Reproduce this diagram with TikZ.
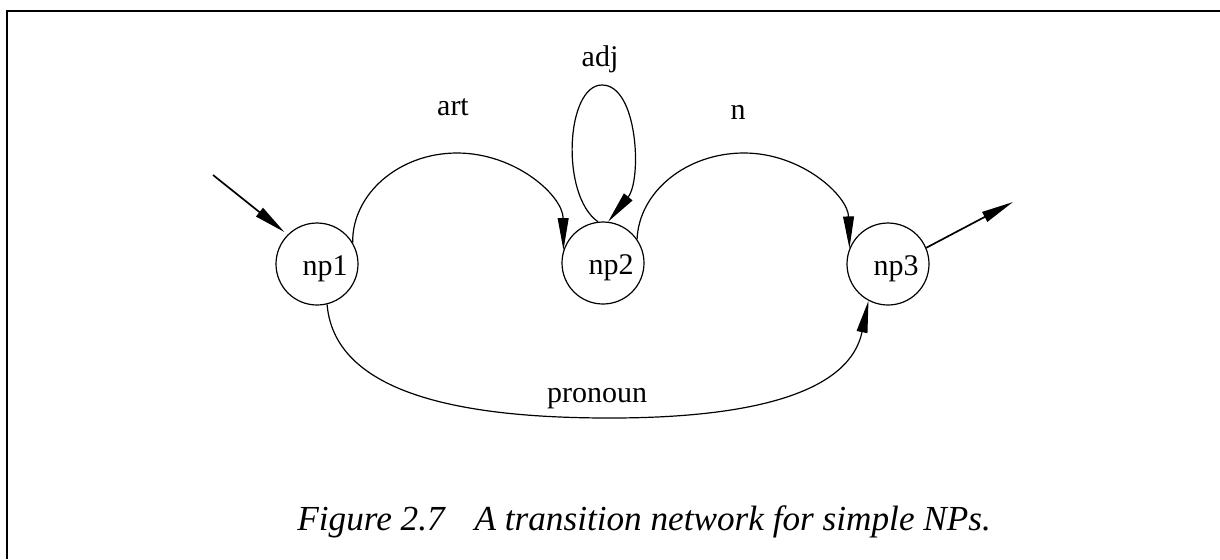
\documentclass[tikz,border=0pt]{standalone}
\usepackage{fontspec}
\setmainfont{Liberation Serif}
\usetikzlibrary{arrows.meta}
\begin{document}
\begin{tikzpicture}[x=0.5pt,y=-0.5pt,
  state/.style={draw,circle,minimum size=41pt,inner sep=0pt,line width=0.6pt},
  lbl/.style={font=\fontsize{15}{18}\selectfont,inner sep=0pt,anchor=base},
  tip/.style={-{Triangle[length=16pt,width=5.4pt]}},
  arcline/.style={line width=0.6pt,tip},
  straight/.style={line width=0.85pt,tip},
  frame/.style={line width=1pt}]
\useasboundingbox (0,0) rectangle (1220,559);
% frame
\draw[frame] (7,559) -- (7,11) -- (1220,11);
% states
\node[state] (np1) at (317,264) {};
\node[state] (np2) at (603,263) {};
\node[state] (np3) at (888,264) {};
\node[lbl] (np1t) at (325,275) {np1};
\node[lbl] (np2t) at (611,274) {np2};
\node[lbl] (np3t) at (896,275) {np3};
% entry and exit
\coordinate (start) at (213,175);
\coordinate (finish) at (1013,202);
\draw[straight,shorten >=2pt] (start) -- (np1.135);
\draw[straight] (np3.23) -- (finish);
% art
\draw[arcline] (np1.31) .. controls (352,194) and (399,153) .. (457,153)
  .. controls (516,153) and (563,196) .. (np2.162);
\node[lbl] (art) at (453,115) {art};
% adj loop
\draw[arcline] (np2.97) .. controls (560,195) and (566,85) .. (602,85)
  .. controls (638,85) and (642,180) .. (np2.83);
\node[lbl] (adj) at (600,66) {adj};
% n
\draw[arcline] (np2.35) .. controls (639,192) and (686,153) .. (744,153)
  .. controls (802,153) and (848,196) .. (np3.158);
\node[lbl] (n) at (738,119) {n};
% pronoun
\draw[arcline] (np1.-76) .. controls (335,400) and (480,418) .. (610,418)
  .. controls (760,418) and (850,390) .. (np3.-118);
\node[lbl] (pron) at (597,402) {pronoun};
% caption
\node[font=\fontsize{17.6}{21}\selectfont\itshape,inner sep=0pt,anchor=base west] (cap) at (297,530) {Figure 2.7\hspace{0.85em}A transition network for simple NPs.};
\end{tikzpicture}
\end{document}
